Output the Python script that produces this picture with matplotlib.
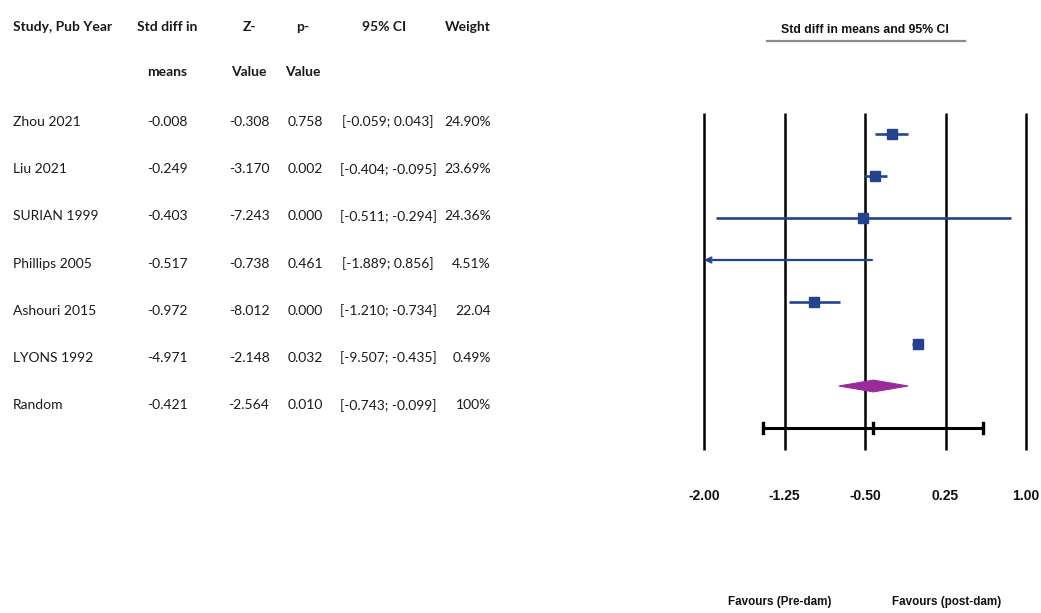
import matplotlib
matplotlib.use("Agg")
import matplotlib.pyplot as plt
from matplotlib.patches import Polygon

# ---------------- data ----------------
studies = ["Zhou 2021", "Liu 2021", "SURIAN 1999", "Phillips 2005",
           "Ashouri 2015", "LYONS 1992", "Random"]
smd = [-0.008, -0.249, -0.403, -0.517, -0.972, -4.971, -0.421]
z_values = [-0.308, -3.170, -7.243, -0.738, -8.012, -2.148, -2.564]
p_values = [0.758, 0.002, 0.000, 0.461, 0.000, 0.032, 0.010]
ci_low = [-0.059, -0.404, -0.511, -1.889, -1.210, -9.507, -0.743]
ci_high = [0.043, -0.095, -0.294, 0.856, -0.734, -0.435, -0.099]
weights = ["24.90%", "23.69%", "24.36%", "4.51%", "22.04", "0.49%", "100%"]

# order in which the studies appear in the forest panel (as in the figure)
plot_order = ["Liu 2021", "SURIAN 1999", "Phillips 2005", "LYONS 1992",
              "Ashouri 2015", "Zhou 2021"]
# bottom bar (interval)
pred_low, pred_high = -1.45, 0.60

x_ticks = [-2.00, -1.25, -0.50, 0.25, 1.00]
x_tick_labels = ["-2.00", "-1.25", "-0.50", "0.25", "1.00"]

# ---------------- figure ----------------
W, H = 1041, 613
fig = plt.figure(figsize=(W / 100, H / 100), dpi=100)
fig.patch.set_facecolor("white")

def fx(px):
    return px / W

def fy(py):
    return 1 - py / H

TFONT = ["Lato", "DejaVu Sans"]
AFONT = ["Liberation Sans", "DejaVu Sans"]
tcol = "#1a1a1a"
fs = 10.0

# table header
hdr1_y, hdr2_y = 27, 72
fig.text(fx(13), fy(hdr1_y), "Study, Pub Year", ha="left", va="center",
         family=TFONT, weight="bold", fontsize=fs, color=tcol)
fig.text(fx(167), fy(hdr1_y), "Std diff in", ha="center", va="center",
         family=TFONT, weight="bold", fontsize=fs, color=tcol)
fig.text(fx(249), fy(hdr1_y), "Z-", ha="center", va="center",
         family=TFONT, weight="bold", fontsize=fs, color=tcol)
fig.text(fx(303), fy(hdr1_y), "p-", ha="center", va="center",
         family=TFONT, weight="bold", fontsize=fs, color=tcol)
fig.text(fx(384), fy(hdr1_y), "95% CI", ha="center", va="center",
         family=TFONT, weight="bold", fontsize=fs, color=tcol)
fig.text(fx(491), fy(hdr1_y), "Weight", ha="right", va="center",
         family=TFONT, weight="bold", fontsize=fs, color=tcol)
fig.text(fx(167), fy(hdr2_y), "means", ha="center", va="center",
         family=TFONT, weight="bold", fontsize=fs, color=tcol)
fig.text(fx(249), fy(hdr2_y), "Value", ha="center", va="center",
         family=TFONT, weight="bold", fontsize=fs, color=tcol)
fig.text(fx(303), fy(hdr2_y), "Value", ha="center", va="center",
         family=TFONT, weight="bold", fontsize=fs, color=tcol)

# table rows
row0, row_step = 122, 47.2
for i, name in enumerate(studies):
    y = fy(row0 + i * row_step)
    kw = dict(va="center", family=TFONT, fontsize=fs, color=tcol)
    fig.text(fx(13), y, name, ha="left", **kw)
    fig.text(fx(167), y, f"{smd[i]:.3f}", ha="center", **kw)
    fig.text(fx(249), y, f"{z_values[i]:.3f}", ha="center", **kw)
    fig.text(fx(305), y, f"{p_values[i]:.3f}", ha="center", **kw)
    fig.text(fx(388), y, f"[{ci_low[i]:.3f}; {ci_high[i]:.3f}]", ha="center", **kw)
    fig.text(fx(491), y, weights[i], ha="right", **kw)

# ---------------- forest panel ----------------
ax_left_px, ax_right_px = 690, 1040
ax_top_px, ax_bot_px = 105, 460
ax = fig.add_axes([fx(ax_left_px), fy(ax_bot_px),
                   (ax_right_px - ax_left_px) / W, (ax_bot_px - ax_top_px) / H])
unit = (1026 - 704) / 3.0  # pixels per unit
ax.set_xlim(-2 - (704 - ax_left_px) / unit, 1 + (ax_right_px - 1026) / unit)
row_px0, row_px_step = 134, 42.0
ax.set_ylim((ax_bot_px - row_px0) / row_px_step, (ax_top_px - row_px0) / row_px_step)
for s in ax.spines.values():
    s.set_visible(False)
ax.set_yticks([])

line_top = (113 - row_px0) / row_px_step
line_bot = (450 - row_px0) / row_px_step
for t in x_ticks:
    ax.plot([t, t], [line_top, line_bot], color="black", lw=1.8,
            solid_capstyle="butt", zorder=1)

blue = "#24438f"
xmin_axis = x_ticks[0]
for r, name in enumerate(plot_order):
    i = studies.index(name)
    lo, hi, est = ci_low[i], ci_high[i], smd[i]
    if lo < xmin_axis:
        ax.annotate("", xy=(xmin_axis, r), xytext=(hi, r),
                    arrowprops=dict(arrowstyle="->", color=blue, lw=1.6,
                                    shrinkA=0, shrinkB=0, mutation_scale=9),
                    zorder=3)
    else:
        ax.plot([lo, hi], [r, r], color=blue, lw=1.9, zorder=3,
                solid_capstyle="butt")
    if est >= xmin_axis:
        ax.plot([est], [r], marker="s", ms=7.3, color=blue, mec=blue, zorder=4)

# summary diamond (Random)
k = studies.index("Random")
rd = len(plot_order)
dh = 0.14
diamond = Polygon([[ci_low[k], rd], [smd[k], rd - dh], [ci_high[k], rd],
                   [smd[k], rd + dh]], closed=True, facecolor="#9b2a9b",
                  edgecolor="#9b2a9b", lw=0.8, zorder=4)
ax.add_patch(diamond)

# bottom bar with caps
rb = rd + 1
ax.plot([pred_low, pred_high], [rb, rb], color="black", lw=2.2, zorder=3)
cap = 0.13
for xv in (pred_low, pred_high, smd[k]):
    ax.plot([xv, xv], [rb - cap, rb + cap], color="black", lw=2.4, zorder=3)

ax.set_xticks(x_ticks)
ax.set_xticklabels(x_tick_labels, fontfamily=AFONT, fontweight="bold",
                   fontsize=10)
ax.tick_params(axis="x", length=0, pad=21, colors="#111111")

# title & underline
fig.text(fx(865), fy(30), "Std diff in means and 95% CI", ha="center",
         va="center", family=AFONT, weight="bold", fontsize=8.8, color="#111111")
fig.add_artist(plt.Line2D([fx(767), fx(965)], [fy(40.5), fy(40.5)],
                          color="#8a8a8a", lw=1.6))

# favours labels
fig.text(fx(780), fy(602), "Favours (Pre-dam)", ha="center", va="center",
         family=AFONT, weight="bold", fontsize=8.4, color="#111111")
fig.text(fx(947), fy(602), "Favours (post-dam)", ha="center", va="center",
         family=AFONT, weight="bold", fontsize=8.4, color="#111111")

fig.savefig("out.png", dpi=100, facecolor="white")
